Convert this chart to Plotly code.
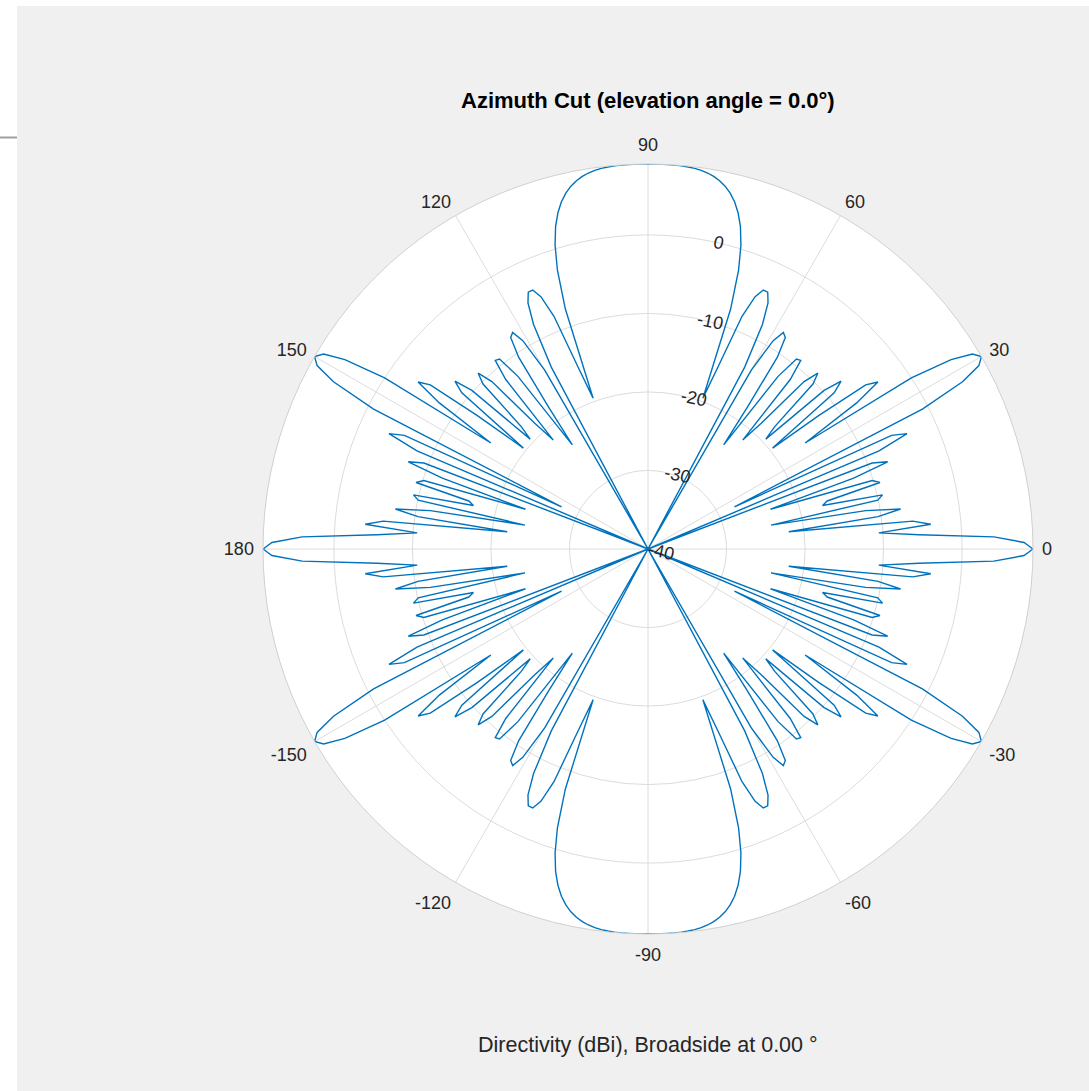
import plotly.graph_objects as go

# Azimuth samples (degrees) and directivity (dBi)
azimuth_deg = list(range(-180, 181))
directivity_dbi = [
    # -180 .. -90
    9.03, 7.90, 4.07, -5.43, -10.54, -3.85, -6.09, -21.94, -10.42, -7.43,
    -11.85, -24.04, -10.08, -9.35, -17.09, -16.37, -9.27, -10.15, -23.60, -12.30,
    -7.52, -9.43, -40.00, -8.04, -3.89, -5.77, -27.75, -0.78, 5.36, 8.18,
    9.03, 8.20, 5.52, -0.01, -15.86, -7.56, -3.81, -5.28, -12.37, -19.58,
    -9.05, -7.42, -9.82, -19.49, -17.56, -10.29, -8.87, -10.85, -18.45, -21.62,
    -11.82, -9.09, -9.29, -12.47, -23.60, -17.86, -10.54, -7.89, -7.47, -9.04,
    -13.69, -40.00, -13.77, -7.90, -5.13, -3.92, -3.90, -5.09, -8.03, -15.35,
    -19.56, -7.68, -2.67, 0.48, 2.70, 4.33, 5.57, 6.52, 7.24, 7.78,
    8.18, 8.48, 8.69, 8.83, 8.92, 8.98, 9.01, 9.02, 9.03, 9.03,
    9.03,
    # -89 .. 0
    9.03, 9.03, 9.02, 9.01, 8.98, 8.92, 8.83, 8.69, 8.48, 8.18,
    7.78, 7.24, 6.52, 5.57, 4.33, 2.70, 0.48, -2.67, -7.68, -19.56,
    -15.35, -8.03, -5.09, -3.90, -3.92, -5.13, -7.90, -13.77, -40.00, -13.69,
    -9.04, -7.47, -7.89, -10.54, -17.86, -23.60, -12.47, -9.29, -9.09, -11.82,
    -21.62, -18.45, -10.85, -8.87, -10.29, -17.56, -19.49, -9.82, -7.42, -9.05,
    -19.58, -12.37, -5.28, -3.81, -7.56, -15.86, -0.01, 5.52, 8.20, 9.03,
    8.18, 5.36, -0.78, -27.75, -5.77, -3.89, -8.04, -40.00, -9.43, -7.52,
    -12.30, -23.60, -10.15, -9.27, -16.37, -17.09, -9.35, -10.08, -24.04, -11.85,
    -7.43, -10.42, -21.94, -6.09, -3.85, -10.54, -5.43, 4.07, 7.90, 9.03,
    # 1 .. 90
    7.90, 4.07, -5.43, -10.54, -3.85, -6.09, -21.94, -10.42, -7.43,
    -11.85, -24.04, -10.08, -9.35, -17.09, -16.37, -9.27, -10.15, -23.60, -12.30,
    -7.52, -9.43, -40.00, -8.04, -3.89, -5.77, -27.75, -0.78, 5.36, 8.18,
    9.03, 8.20, 5.52, -0.01, -15.86, -7.56, -3.81, -5.28, -12.37, -19.58,
    -9.05, -7.42, -9.82, -19.49, -17.56, -10.29, -8.87, -10.85, -18.45, -21.62,
    -11.82, -9.09, -9.29, -12.47, -23.60, -17.86, -10.54, -7.89, -7.47, -9.04,
    -13.69, -40.00, -13.77, -7.90, -5.13, -3.92, -3.90, -5.09, -8.03, -15.35,
    -19.56, -7.68, -2.67, 0.48, 2.70, 4.33, 5.57, 6.52, 7.24, 7.78,
    8.18, 8.48, 8.69, 8.83, 8.92, 8.98, 9.01, 9.02, 9.03, 9.03,
    9.03,
    # 91 .. 180
    9.03, 9.03, 9.02, 9.01, 8.98, 8.92, 8.83, 8.69, 8.48, 8.18,
    7.78, 7.24, 6.52, 5.57, 4.33, 2.70, 0.48, -2.67, -7.68, -19.56,
    -15.35, -8.03, -5.09, -3.90, -3.92, -5.13, -7.90, -13.77, -40.00, -13.69,
    -9.04, -7.47, -7.89, -10.54, -17.86, -23.60, -12.47, -9.29, -9.09, -11.82,
    -21.62, -18.45, -10.85, -8.87, -10.29, -17.56, -19.49, -9.82, -7.42, -9.05,
    -19.58, -12.37, -5.28, -3.81, -7.56, -15.86, -0.01, 5.52, 8.20, 9.03,
    8.18, 5.36, -0.78, -27.75, -5.77, -3.89, -8.04, -40.00, -9.43, -7.52,
    -12.30, -23.60, -10.15, -9.27, -16.37, -17.09, -9.35, -10.08, -24.04, -11.85,
    -7.43, -10.42, -21.94, -6.09, -3.85, -10.54, -5.43, 4.07, 7.90, 9.03,
]

angle_tickvals = [0, 30, 60, 90, 120, 150, 180, 210, 240, 270, 300, 330]
angle_ticktext = ["0", "30", "60", "90", "120", "150", "180",
                  "-150", "-120", "-90", "-60", "-30"]
radial_tickvals = [-40, -30, -20, -10, 0]
radial_ticktext = ["-40", "-30", "-20", "-10", "0"]
radial_range = [-40, 9.03]

title_text = "Azimuth Cut (elevation angle = 0.0°)"
footer_text = "Directivity (dBi), Broadside at 0.00 °"

FONT = "Liberation Sans, Arial, Helvetica, sans-serif"
W, H = 1089, 1091

fig = go.Figure()
fig.add_trace(go.Scatterpolar(
    r=directivity_dbi,
    theta=azimuth_deg,
    mode="lines",
    line=dict(color="#0072BD", width=1.4),
    showlegend=False,
    hoverinfo="skip",
))

fig.update_layout(
    width=W, height=H,
    margin=dict(l=0, r=0, t=0, b=0),
    paper_bgcolor="white",
    plot_bgcolor="white",
    font=dict(family=FONT, color="#262626"),
    showlegend=False,
    polar=dict(
        domain=dict(x=[263 / W, 1033 / W], y=[(H - 934) / H, (H - 164) / H]),
        bgcolor="white",
        angularaxis=dict(
            rotation=0,
            direction="counterclockwise",
            tickmode="array",
            tickvals=angle_tickvals,
            ticktext=angle_ticktext,
            ticks="outside",
            ticklen=5,
            tickcolor="rgba(0,0,0,0)",
            showline=True,
            linecolor="#d0d0d0",
            linewidth=1,
            gridcolor="#dcdcdc",
            gridwidth=1,
            tickfont=dict(size=18, color="#262626", family=FONT),
        ),
        radialaxis=dict(
            range=radial_range,
            angle=78,
            tickangle=90,
            tickmode="array",
            tickvals=radial_tickvals,
            ticktext=radial_ticktext,
            ticks="",
            showline=False,
            gridcolor="#dcdcdc",
            gridwidth=1,
            tickfont=dict(size=18, color="#262626", family=FONT),
        ),
    ),
    shapes=[
        dict(type="rect", xref="paper", yref="paper",
             x0=17 / W, x1=1, y0=0, y1=(H - 6) / H,
             fillcolor="#f0f0f0", line=dict(width=0), layer="below"),
        dict(type="line", xref="paper", yref="paper",
             x0=0, x1=17 / W, y0=(H - 137.5) / H, y1=(H - 137.5) / H,
             line=dict(color="#a0a0a0", width=2), layer="below"),
    ],
    annotations=[
        dict(text="<b>" + title_text + "</b>", xref="paper", yref="paper",
             x=648 / W, y=(H - 101) / H, xanchor="center", yanchor="middle",
             showarrow=False, font=dict(size=22, color="#000000", family=FONT)),
        dict(text=footer_text, xref="paper", yref="paper",
             x=648 / W, y=(H - 1045) / H, xanchor="center", yanchor="middle",
             showarrow=False, font=dict(size=21.5, color="#262626", family=FONT)),
    ],
)

fig.write_html("out.html", config={"displayModeBar": False},
               post_script="document.body.style.margin='0px';")
